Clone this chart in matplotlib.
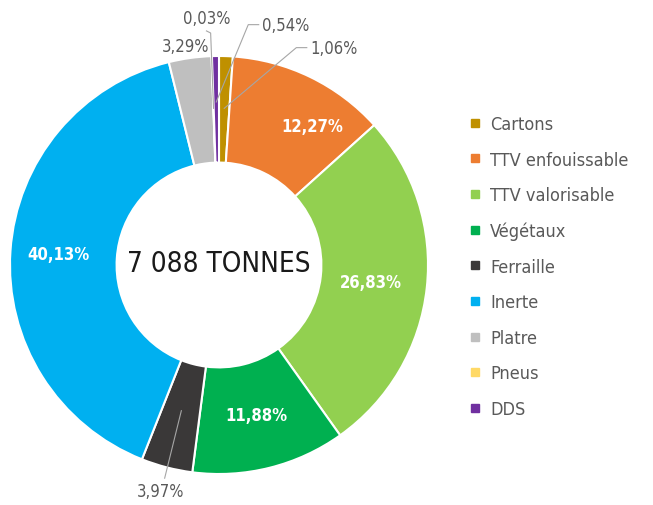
import numpy as np
import matplotlib.pyplot as plt
from matplotlib.lines import Line2D

plt.rcParams['font.family'] = ['DejaVu Sans']
plt.rcParams['font.stretch'] = 'condensed'

categories = ['Cartons', 'TTV enfouissable', 'TTV valorisable', 'Végétaux', 'Ferraille',
              'Inerte', 'Platre', 'Pneus', 'DDS']
shares = [1.06, 12.27, 26.83, 11.88, 3.97, 40.13, 3.29, 0.03, 0.54]
labels = ['1,06%', '12,27%', '26,83%', '11,88%', '3,97%', '40,13%', '3,29%', '0,03%', '0,54%']
colors = ['#BF9000', '#ED7D31', '#92D050', '#00B050', '#3A3838', '#00B0F0', '#BFBFBF',
          '#FFD966', '#7030A0']
total_label = '7 088 TONNES'

W, H = 653, 506
fig = plt.figure(figsize=(W / 100, H / 100), dpi=100)
cx, cy, R = 219, 266, 209
ax = fig.add_axes([(cx - R) / W, (H - cy - R) / H, 2 * R / W, 2 * R / H])

wedges, _ = ax.pie(shares, colors=colors, startangle=90, counterclock=False, radius=1,
                   wedgeprops=dict(width=0.51, edgecolor='white', linewidth=1.5))
ax.set_xlim(-1, 1)
ax.set_ylim(-1, 1)
ax.set_aspect('equal')
ax.axis('off')

ax.text(0, 0.01, total_label, ha='center', va='center', fontsize=20, color='#1a1a1a')

gray = '#595959'
# inside labels for big slices, outside with leader lines for small ones
inside = {1: 0.80, 2: 0.73, 3: 0.74, 5: 0.77}
outside = {4: (-0.28, -1.08, 0.72), 6: (-0.16, 1.05, None),
           7: (-0.06, 1.18, 0.75), 8: (0.32, 1.15, 0.78), 0: (0.55, 1.04, 0.75)}
for i, w in enumerate(wedges):
    mid = np.deg2rad((w.theta1 + w.theta2) / 2)
    if i == 1:
        mid = np.deg2rad(56)
    if i in inside:
        r = inside[i]
        ax.text(r * np.cos(mid), r * np.sin(mid), labels[i], ha='center', va='center',
                fontsize=12, fontweight='bold', color='white')
    else:
        tx, ty, rl = outside[i]
        ax.text(tx, ty, labels[i], ha='center', va='center', fontsize=12, color=gray,
                clip_on=False)
        if rl is not None:
            ex, ey = rl * np.cos(mid), rl * np.sin(mid)
            if i in (8, 0):
                sx = tx - 0.18
                xs, ys = [sx + 0.05, sx, ex], [ty, ty, ey]
            elif i == 7:
                xs, ys = [tx, tx + 0.02, ex], [ty - 0.06, ty - 0.07, ey]
            else:
                xs, ys = [tx + 0.02, ex], [ty + 0.06, ey]
            ax.plot(xs, ys, color='#A6A6A6', lw=0.8, clip_on=False)

handles = [Line2D([], [], marker='s', ls='', markersize=6, markerfacecolor=c,
                  markeredgecolor=c) for c in colors]
fig.legend(handles, categories, loc='upper left', bbox_to_anchor=(452 / W, 1 - 100 / H),
           frameon=False, fontsize=13, labelcolor=gray, handletextpad=0.4,
           labelspacing=0.97, handlelength=0.8)

fig.savefig('out.png', dpi=100)
